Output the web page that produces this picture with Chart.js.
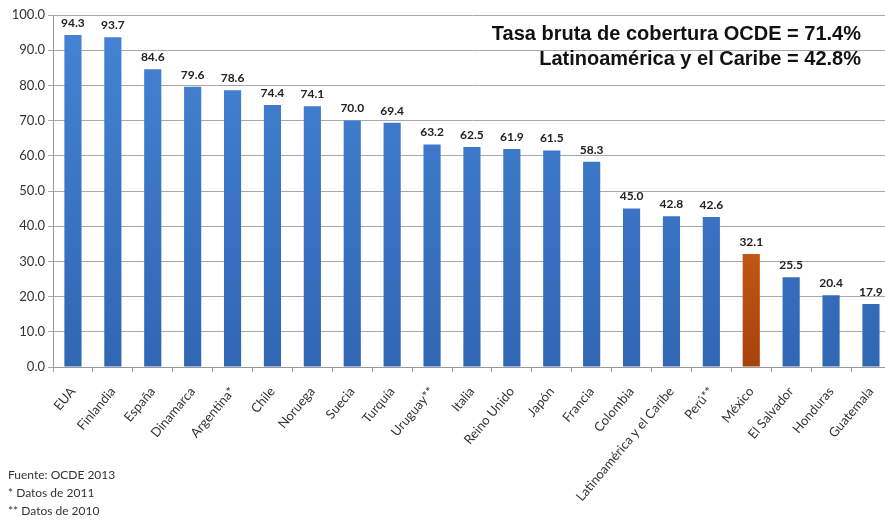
<!DOCTYPE html>
<html>
<head>
<meta charset="utf-8">
<script src="https://cdn.jsdelivr.net/npm/chart.js@4"></script>
<style>
  html, body { margin: 0; padding: 0; background: #fff; overflow: hidden; }
  body { width: 885px; height: 525px; position: relative; }
  .chart-wrap { position: absolute; left: 0; top: 0; width: 895px; height: 525px; }
  .head { position: absolute; right: 24px; top: 21px; text-align: right;
    font: bold 20px "Liberation Sans", Arial, sans-serif; color: #111; line-height: 25px; }
  .notes { position: absolute; left: 8px; top: 466px;
    font: 12px Lato, "Open Sans", sans-serif; color: #333; line-height: 18px; }
</style>
</head>
<body>
<div class="chart-wrap"><canvas id="bar-chart"></canvas></div>
<div class="head">Tasa bruta de cobertura OCDE = 71.4%<br>Latinoamérica y el Caribe = 42.8%</div>
<div class="notes">Fuente: OCDE 2013<br>* Datos de 2011<br>** Datos de 2010</div>
<script>
const countries = ['EUA', 'Finlandia', 'España', 'Dinamarca', 'Argentina*', 'Chile', 'Noruega', 'Suecia',
  'Turquía', 'Uruguay**', 'Italia', 'Reino Unido', 'Japón', 'Francia', 'Colombia',
  'Latinoamérica y el Caribe', 'Perú**', 'México', 'El Salvador', 'Honduras', 'Guatemala'];
const coverage = [94.3, 93.7, 84.6, 79.6, 78.6, 74.4, 74.1, 70.0, 69.4, 63.2, 62.5, 61.9, 61.5, 58.3,
  45.0, 42.8, 42.6, 32.1, 25.5, 20.4, 17.9];
const highlight = 'México';
const yTicks = [0, 10, 20, 30, 40, 50, 60, 70, 80, 90, 100];

const $canvas = document.getElementById('bar-chart');

// etiquetas de valor encima de cada barra
const valueLabels = {
  id: 'valueLabels',
  afterDatasetsDraw(chart) {
    const ctx = chart.ctx;
    const meta = chart.getDatasetMeta(0);
    ctx.save();
    ctx.font = 'bold 12px Lato, "Open Sans", sans-serif';
    ctx.fillStyle = '#222';
    ctx.textAlign = 'center';
    ctx.textBaseline = 'bottom';
    meta.data.forEach((bar, i) => {
      ctx.fillText(coverage[i].toFixed(1), bar.x, bar.y - 6);
    });
    ctx.restore();
  }
};

function barColor(c) {
  const area = c.chart.chartArea;
  if (!area) return '#3b78c8';
  const g = c.chart.ctx.createLinearGradient(0, area.top, 0, area.bottom);
  if (countries[c.dataIndex] === highlight) {
    g.addColorStop(0, '#f58220');
    g.addColorStop(1, '#a8420c');
  } else {
    g.addColorStop(0, '#4584d4');
    g.addColorStop(1, '#3066b4');
  }
  return g;
}

new Chart($canvas, {
  type: 'bar',
  data: {
    labels: countries,
    datasets: [{
      data: coverage,
      backgroundColor: barColor,
      borderWidth: 0,
      barPercentage: 0.43,
      categoryPercentage: 1
    }]
  },
  options: {
    responsive: true,
    maintainAspectRatio: false,
    animation: false,
    layout: { padding: { top: 15, right: 4, left: 0, bottom: 0 } },
    plugins: {
      legend: { display: false },
      tooltip: { enabled: false }
    },
    scales: {
      x: {
        afterFit(scale) { scale.height = 158; },
        border: { color: '#9a9a9a' },
        grid: { offset: true, drawOnChartArea: false, drawTicks: true, tickLength: 5, color: '#9a9a9a' },
        ticks: {
          autoSkip: false,
          minRotation: 50,
          maxRotation: 50,
          padding: 12,
          color: '#333',
          font: { family: 'Lato, "Open Sans", sans-serif', size: 13 }
        }
      },
      y: {
        min: 0,
        max: 100,
        afterFit(scale) { scale.width = 53; },
        afterBuildTicks(scale) { scale.ticks = yTicks.map(v => ({ value: v })); },
        border: { color: '#9a9a9a' },
        grid: { color: '#a8a8a8', tickLength: 5 },
        ticks: {
          padding: 3,
          color: '#333',
          font: { family: 'Lato, "Open Sans", sans-serif', size: 13 },
          callback: v => Number(v).toFixed(1)
        }
      }
    }
  },
  plugins: [valueLabels]
});
</script>
</body>
</html>
